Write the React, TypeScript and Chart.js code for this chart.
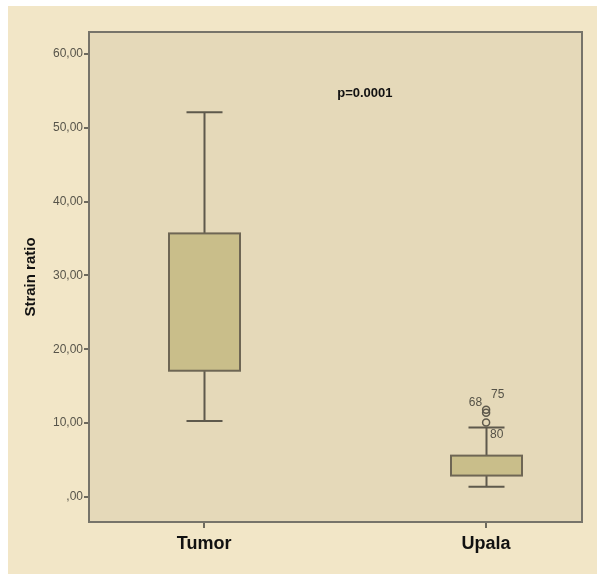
import React, { useEffect, useRef } from "react";
import { Chart, registerables } from "chart.js";

Chart.register(...registerables);

const categories = ["Tumor", "Upala"];
const categoryX = [1, 2];
const whiskerLow = [10.3, 1.4];
const q1 = [17.1, 2.9];
const q3 = [35.7, 5.6];
const whiskerHigh = [52.1, 9.4];
const outlierX = [2, 2, 2];
const outlierY = [10.1, 11.4, 11.8];
const outlierIds = ["80", "68", "75"];
const yTicks = [0, 10, 20, 30, 40, 50, 60];
const pValueText = "p=0.0001";

const FONT = "Arial, 'Liberation Sans', sans-serif";

const boxPlotPlugin = {
  id: "boxPlotPlugin",
  beforeDraw(chart: any) {
    const ctx = chart.ctx;
    const { chartArea } = chart;
    ctx.save();
    ctx.fillStyle = "#ffffff";
    ctx.fillRect(0, 0, chart.width, chart.height);
    ctx.fillStyle = "#f2e6c7";
    ctx.fillRect(8, 6, chart.width - 8, chart.height - 6);
    ctx.fillStyle = "#e5d9b9";
    ctx.fillRect(chartArea.left, chartArea.top, chartArea.right - chartArea.left, chartArea.bottom - chartArea.top);
    ctx.restore();
  },
  afterDatasetsDraw(chart: any) {
    const ctx = chart.ctx;
    const xs = chart.scales.x;
    const ys = chart.scales.y;
    const { chartArea } = chart;
    ctx.save();
    ctx.strokeStyle = "#77746a";
    ctx.lineWidth = 2;
    ctx.strokeRect(chartArea.left, chartArea.top, chartArea.right - chartArea.left, chartArea.bottom - chartArea.top);

    const halfBox = 35.5;
    const halfCap = 18;
    for (let i = 0; i < categories.length; i++) {
      const cx = Math.round(xs.getPixelForValue(categoryX[i])) + 0.5;
      const yLo = ys.getPixelForValue(whiskerLow[i]);
      const yQ1 = ys.getPixelForValue(q1[i]);
      const yQ3 = ys.getPixelForValue(q3[i]);
      const yHi = ys.getPixelForValue(whiskerHigh[i]);
      ctx.strokeStyle = "#5e594c";
      ctx.lineWidth = 2;
      ctx.beginPath();
      ctx.moveTo(cx, yHi);
      ctx.lineTo(cx, yQ3);
      ctx.moveTo(cx, yQ1);
      ctx.lineTo(cx, yLo);
      ctx.moveTo(cx - halfCap, yHi);
      ctx.lineTo(cx + halfCap, yHi);
      ctx.moveTo(cx - halfCap, yLo);
      ctx.lineTo(cx + halfCap, yLo);
      ctx.stroke();
      ctx.fillStyle = "#c9be8a";
      ctx.fillRect(cx - halfBox, yQ3, halfBox * 2, yQ1 - yQ3);
      ctx.strokeStyle = "#6e6654";
      ctx.lineWidth = 2;
      ctx.strokeRect(cx - halfBox, yQ3, halfBox * 2, yQ1 - yQ3);
    }

    ctx.fillStyle = "#555247";
    ctx.font = "12px " + FONT;
    ctx.textBaseline = "middle";
    const offsets: Record<string, [number, number, CanvasTextAlign]> = {
      "80": [4, 12, "left"],
      "68": [-4, -10, "right"],
      "75": [5, -15, "left"],
    };
    for (let i = 0; i < outlierIds.length; i++) {
      const px = xs.getPixelForValue(outlierX[i]);
      const py = ys.getPixelForValue(outlierY[i]);
      const o = offsets[outlierIds[i]] || [5, 0, "left"];
      ctx.textAlign = o[2];
      ctx.fillText(outlierIds[i], px + o[0], py + o[1]);
    }

    ctx.fillStyle = "#111";
    ctx.font = "bold 13px " + FONT;
    ctx.textAlign = "center";
    ctx.fillText(pValueText, xs.getPixelForValue(1.57), ys.getPixelForValue(54.6));
    ctx.restore();
  },
};

export default function App() {
  const ref = useRef<HTMLCanvasElement>(null);
  useEffect(() => {
    document.body.style.margin = "0";
    document.body.style.overflow = "hidden";
    if (!ref.current) return;
    const chart = new Chart(ref.current, {
      type: "scatter",
      data: {
        datasets: [
          {
            label: "Outliers",
            data: outlierX.map((x, i) => ({ x, y: outlierY[i] })),
            pointRadius: 3.5,
            pointBorderWidth: 1.5,
            pointBorderColor: "#5e594c",
            pointBackgroundColor: "rgba(0,0,0,0)",
            pointHoverRadius: 3.5,
          },
        ],
      },
      options: {
        animation: false,
        responsive: false,
        devicePixelRatio: 1,
        layout: { padding: { top: 32, right: 15, left: 22, bottom: 0 } },
        plugins: { legend: { display: false }, tooltip: { enabled: false } },
        scales: {
          x: {
            type: "linear",
            min: 0.592,
            max: 2.34,
            afterBuildTicks: (s: any) => {
              s.ticks = categoryX.map((v) => ({ value: v }));
            },
            afterFit: (s: any) => {
              s.height = 52;
            },
            ticks: {
              callback: (v: any) => {
                const idx = categoryX.indexOf(Number(v));
                return idx >= 0 ? categories[idx] : "";
              },
              color: "#111",
              font: { family: FONT, size: 18, weight: "bold" },
              padding: 5,
              maxRotation: 0,
            },
            grid: { drawOnChartArea: false, drawTicks: true, tickLength: 6, color: "#6e6a5e", lineWidth: 2 },
            border: { display: true, color: "#77746a", width: 2 },
          },
          y: {
            type: "linear",
            min: -3.39,
            max: 62.98,
            afterBuildTicks: (s: any) => {
              s.ticks = yTicks.map((v) => ({ value: v }));
            },
            afterFit: (s: any) => {
              s.width = 67;
            },
            ticks: {
              callback: (v: any) => (Number(v) === 0 ? ",00" : Number(v).toFixed(2).replace(".", ",")),
              color: "#57544a",
              font: { family: FONT, size: 12 },
              padding: 1,
            },
            title: {
              display: true,
              text: "Strain ratio",
              color: "#111",
              font: { family: FONT, size: 15, weight: "bold" },
              padding: { top: 0, bottom: 4 },
            },
            grid: { drawOnChartArea: false, drawTicks: true, tickLength: 5, color: "#6e6a5e", lineWidth: 2 },
            border: { display: true, color: "#77746a", width: 2 },
          },
        },
      },
      plugins: [boxPlotPlugin],
    });
    return () => chart.destroy();
  }, []);
  return (
    <div style={{ width: 597, height: 574 }}>
      <canvas ref={ref} width={597} height={574} style={{ display: "block" }} />
    </div>
  );
}
